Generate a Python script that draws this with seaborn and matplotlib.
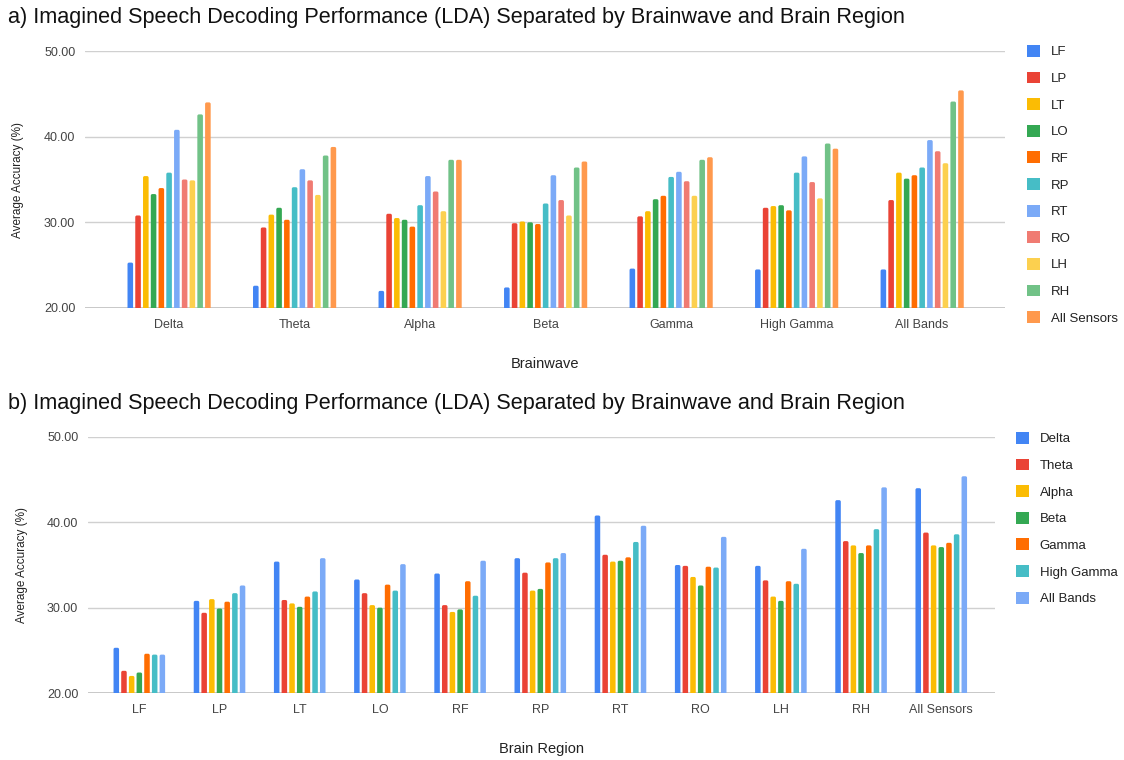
import numpy as np
import pandas as pd
import matplotlib
matplotlib.use("Agg")
import matplotlib.pyplot as plt
import seaborn as sns
from matplotlib.patches import Patch, FancyBboxPatch

# ---------------- data ----------------
bands = ["Delta", "Theta", "Alpha", "Beta", "Gamma", "High Gamma", "All Bands"]
regions = ["LF", "LP", "LT", "LO", "RF", "RP", "RT", "RO", "LH", "RH", "All Sensors"]

delta = [25.3, 30.8, 35.4, 33.3, 34.0, 35.8, 40.8, 35.0, 34.9, 42.6, 44.0]
theta = [22.6, 29.4, 30.9, 31.7, 30.3, 34.1, 36.2, 34.9, 33.2, 37.8, 38.8]
alpha = [22.0, 31.0, 30.5, 30.3, 29.5, 32.0, 35.4, 33.6, 31.3, 37.3, 37.3]
beta = [22.4, 29.9, 30.1, 30.0, 29.8, 32.2, 35.5, 32.6, 30.8, 36.4, 37.1]
gamma = [24.6, 30.7, 31.3, 32.7, 33.1, 35.3, 35.9, 34.8, 33.1, 37.3, 37.6]
high_gamma = [24.5, 31.7, 31.9, 32.0, 31.4, 35.8, 37.7, 34.7, 32.8, 39.2, 38.6]
all_bands = [24.5, 32.6, 35.8, 35.1, 35.5, 36.4, 39.6, 38.3, 36.9, 44.1, 45.4]

region_colors = ["#4285F4", "#EA4335", "#FBBC04", "#34A853", "#FF6D01", "#46BDC6",
                 "#7BAAF7", "#F07B72", "#FCD04F", "#71C287", "#FF994D"]
band_colors = ["#4285F4", "#EA4335", "#FBBC04", "#34A853", "#FF6D01", "#46BDC6", "#7BAAF7"]

yticks = [20, 30, 40, 50]
title_a = "a) Imagined Speech Decoding Performance (LDA) Separated by Brainwave and Brain Region"
title_b = "b) Imagined Speech Decoding Performance (LDA) Separated by Brainwave and Brain Region"

rows = []
for b, vals in zip(bands, [delta, theta, alpha, beta, gamma, high_gamma, all_bands]):
    for r, v in zip(regions, vals):
        rows.append({"band": b, "region": r, "acc": v})
df = pd.DataFrame(rows)

# ---------------- style ----------------
sns.set_style("white")
plt.rcParams["font.family"] = ["Liberation Sans", "DejaVu Sans"]

W, H = 1124, 760
fig = plt.figure(figsize=(W / 100, H / 100), dpi=100)


def fx(px):
    return px / W


def fy(py):
    return 1 - py / H


def style_axes(ax, xlab, xlim, label_y):
    ax.set_ylim(20, 50)
    ax.set_xlim(*xlim)
    ax.set_yticks(yticks)
    ax.set_yticklabels([f"{t:.2f}" for t in yticks])
    ax.yaxis.grid(True, color="#D0D0D0", lw=1)
    ax.xaxis.grid(False)
    ax.set_axisbelow(True)
    for s in ax.spines.values():
        s.set_visible(False)
    ax.axhline(20, color="#BDBDBD", lw=1.2, zorder=0.5)
    ax.tick_params(axis="both", length=0, labelsize=9, colors="#444444")
    ax.tick_params(axis="y", pad=7)
    ax.tick_params(axis="x", pad=8)
    ax.set_xlabel(xlab, fontsize=10.5, color="#222222")
    ax.set_ylabel("Average Accuracy (%)", fontsize=8.5, color="#222222")
    ax.xaxis.set_label_coords(0.5, label_y)
    ax.yaxis.set_label_coords(-0.066, 0.5)


def slim_round_bars(ax, frac=0.72, radius_px=1.6):
    # pixels per data unit in each direction
    p0 = ax.transData.transform((0, 0))
    p1 = ax.transData.transform((1, 1))
    sx = abs(p1[0] - p0[0])
    sy = abs(p1[1] - p0[1])
    rx = radius_px / sx
    ry = radius_px / sy
    for p in list(ax.patches):
        w = p.get_width()
        nw = w * frac
        x = p.get_x() + (w - nw) / 2
        y = p.get_y()
        h = p.get_height()
        fb = FancyBboxPatch((x, y), nw, h,
                            boxstyle=f"round,pad=0,rounding_size={rx}",
                            mutation_aspect=ry / rx,
                            facecolor=p.get_facecolor(), edgecolor="none",
                            linewidth=0, zorder=2)
        ax.add_patch(fb)
        p.remove()


# ---------------- chart a ----------------
ax1 = fig.add_axes([fx(85), fy(308), fx(1005) - fx(85), fy(51) - fy(308)])
sns.barplot(data=df, x="band", y="acc", hue="region", order=bands, hue_order=regions,
            palette=region_colors, width=0.68, saturation=1, errorbar=None,
            legend=False, ax=ax1)
style_axes(ax1, "Brainwave", (-0.67, 6.66), -0.19)
slim_round_bars(ax1)
fig.text(fx(8), fy(17), title_a, fontsize=15.6, va="center", ha="left", color="#111111")

h1 = [Patch(facecolor=c, edgecolor="none", label=r) for r, c in zip(regions, region_colors)]
fig.legend(handles=h1, loc="upper left", bbox_to_anchor=(fx(1027), fy(45)), frameon=False,
           fontsize=9.5, handlelength=1.0, handleheight=1.0, handletextpad=0.8,
           labelspacing=1.0, borderpad=0, borderaxespad=0, labelcolor="#222222")

# ---------------- chart b ----------------
ax2 = fig.add_axes([fx(88), fy(693), fx(995) - fx(88), fy(437) - fy(693)])
sns.barplot(data=df, x="region", y="acc", hue="band", order=regions, hue_order=bands,
            palette=band_colors, width=0.67, saturation=1, errorbar=None,
            legend=False, ax=ax2)
style_axes(ax2, "Brain Region", (-0.64, 10.67), -0.19)
slim_round_bars(ax2)
fig.text(fx(8), fy(403), title_b, fontsize=15.6, va="center", ha="left", color="#111111")

h2 = [Patch(facecolor=c, edgecolor="none", label=b) for b, c in zip(bands, band_colors)]
fig.legend(handles=h2, loc="upper left", bbox_to_anchor=(fx(1016), fy(432)), frameon=False,
           fontsize=9.5, handlelength=1.0, handleheight=1.0, handletextpad=0.8,
           labelspacing=1.0, borderpad=0, borderaxespad=0, labelcolor="#222222")

fig.savefig("out.png", dpi=100)
